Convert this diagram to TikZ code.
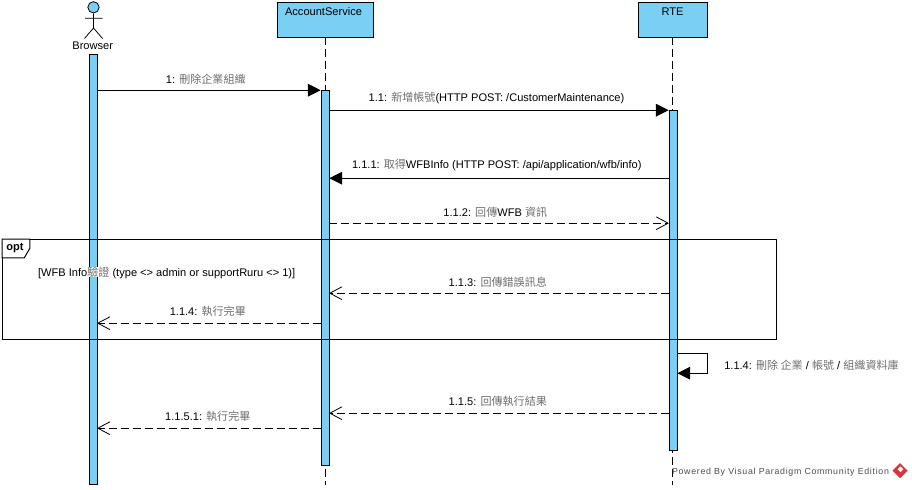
\documentclass[tikz,border=0pt]{standalone}
\usepackage{fontspec}
\setmainfont{Liberation Sans}
\newfontfamily\cjkf{Noto Sans CJK TC}
\newfontfamily\vpf[LetterSpace=8]{Liberation Sans}
\usetikzlibrary{arrows.meta,shapes.geometric}
\definecolor{barblue}{HTML}{7ACFF5}
\definecolor{cjkgray}{HTML}{6E6E6E}
\definecolor{vpred}{HTML}{D8343C}
\newcommand{\zh}[1]{{\cjkf\color{cjkgray}#1}}
\tikzset{
  x=0.75pt,y=-0.75pt,
  lbl/.style={inner sep=0pt,font=\fontsize{8.3pt}{10pt}\selectfont,text=black},
  lifehead/.style={draw=black,fill=barblue,line width=0.8pt,minimum height=26.25pt,inner sep=0pt},
  actbar/.style={draw=black,fill=barblue,line width=0.6pt,minimum width=6pt,inner sep=0pt},
  lifeline/.style={draw=black,line width=0.75pt,dash pattern=on 6pt off 3pt},
  syncmsg/.style={draw=black,line width=0.75pt,-{Triangle[length=9.5pt,width=9.5pt,fill=black]}},
  retmsg/.style={draw=black,line width=0.75pt,dash pattern=on 6pt off 3pt,-{Straight Barb[length=9pt,width=9.5pt,line width=0.6pt,round=false]}},
  framebox/.style={draw=black,line width=0.75pt},
}
\begin{document}
\begin{tikzpicture}
\useasboundingbox (0.7,0.7) rectangle (912.7,489.7);
% message levels
\coordinate (m1) at (0,90.9);
\coordinate (m2) at (0,110.9);
\coordinate (m3) at (0,178.9);
\coordinate (m4) at (0,223.9);
\coordinate (m5) at (0,293.9);
\coordinate (m6) at (0,323.9);
\coordinate (m7) at (0,413.9);
\coordinate (m8) at (0,428.9);
\coordinate (s1) at (708.5,353.9);
\coordinate (s2) at (708.5,373.9);
\coordinate (acEnd) at (325.7,485.7);
\coordinate (rtEnd) at (673.2,485.7);
% heads
\node[lifehead,minimum width=72pt,anchor=north west] (ac) at (277.7,2.7) {};
\node[lbl,anchor=center] (acT) at (324.2,12.7) {AccountService};
\node[lifehead,minimum width=51.75pt,anchor=north west] (rt) at (638.7,2.7) {};
\node[lbl,anchor=center] (rtT) at (673.2,12.7) {RTE};
% lifelines
\draw[lifeline] (325.7,37.7) -- (acEnd);
\draw[lifeline] (673.2,37.7) -- (rtEnd);
% bars
\node[actbar,minimum height=322.5pt,anchor=north] (brb) at (93.7,54.7) {};
\node[actbar,minimum height=281.25pt,anchor=north] (acb) at (325.7,90.7) {};
\node[actbar,minimum height=255pt,anchor=north] (rtb) at (673.7,110.7) {};
% actor
\node[draw=black,fill=barblue,circle,minimum size=8.5pt,inner sep=0pt,line width=0.6pt] (head) at (94.2,8) {};
\coordinate (hip) at (94.2,28.7);
\coordinate (armL) at (85.7,19);
\coordinate (armR) at (103.2,19);
\coordinate (legL) at (85.2,39.2);
\coordinate (legR) at (103.2,39.2);
\draw[black,line width=0.6pt] (head.south) -- (hip) (armL) -- (armR) (legL) -- (hip) -- (legR);
\node[lbl] (brT) at (93.4,46) {Browser};
% frame
\node[framebox,anchor=north west,minimum width=580.5pt,minimum height=75pt,inner sep=0pt] (optf) at (2.9,239.7) {};
\coordinate (tabA) at (30.5,239.7);
\coordinate (tabA2) at (30.5,249);
\coordinate (tabB) at (25,258.5);
\coordinate (tabC) at (2.9,258.5);
\draw[framebox,fill=white] (optf.north west) -- (tabA) -- (tabA2) -- (tabB) -- (tabC) -- cycle;
\node[lbl,font=\fontsize{8.3pt}{10pt}\selectfont\bfseries] (optT) at (15.7,248.5) {opt};
\node[lbl] (guard) at (167.4,273.2) {[WFB Info{\setlength\fboxsep{0pt}\colorbox{white}{\zh{驗證}}} (type <> admin or supportRuru <> 1)]};
% messages
\draw[syncmsg] (brb.east |- m1) -- (acb.west |- m1);
\draw[syncmsg] (acb.east |- m2) -- (rtb.west |- m2);
\draw[syncmsg] (rtb.west |- m3) -- (acb.east |- m3);
\draw[retmsg] (acb.east |- m4) -- (rtb.west |- m4);
\draw[retmsg] (rtb.west |- m5) -- (acb.east |- m5);
\draw[retmsg] (acb.west |- m6) -- (brb.east |- m6);
\draw[syncmsg] (rtb.east |- s1) -- (s1) -- (s2) -- (rtb.east |- s2);
\draw[retmsg] (rtb.west |- m7) -- (acb.east |- m7);
\draw[retmsg] (acb.west |- m8) -- (brb.east |- m8);
% labels
\node[lbl] (l1) at (206.5,79.8) {1: \zh{刪除企業組織}};
\node[lbl] (l2) at (497.2,99.1) {1.1: \zh{新增帳號}(HTTP POST: /CustomerMaintenance)};
\node[lbl] (l3) at (497.5,166.1) {1.1.1: \zh{取得}WFBInfo (HTTP POST: /api/application/wfb/info)};
\node[lbl] (l4) at (496,212.5) {1.1.2: \zh{回傳}WFB \zh{資訊}};
\node[lbl] (l5) at (498.5,282.5) {1.1.3: \zh{回傳錯誤訊息}};
\node[lbl] (l6) at (208.5,312.1) {1.1.4: \zh{執行完畢}};
\node[lbl,anchor=west] (l7) at (724.7,365.5) {1.1.4: \zh{刪除 企業} / \zh{帳號} / \zh{組織資料庫}};
\node[lbl] (l8) at (498.5,402.1) {1.1.5: \zh{回傳執行結果}};
\node[lbl] (l9) at (208.5,417.1) {1.1.5.1: \zh{執行完畢}};
% footer
\node[inner sep=0pt,anchor=west,text=black!70,font=\fontsize{6.6pt}{8pt}\selectfont\vpf] (vp) at (672.5,473) {Powered By Visual Paradigm Community Edition};
\node[fill=vpred,diamond,minimum size=11.5pt,inner sep=0pt] (logo) at (900.7,471.4) {};
\node[fill=white,diamond,minimum size=4.5pt,inner sep=0pt] (logoi) at (901.2,470) {};
\end{tikzpicture}
\end{document}
